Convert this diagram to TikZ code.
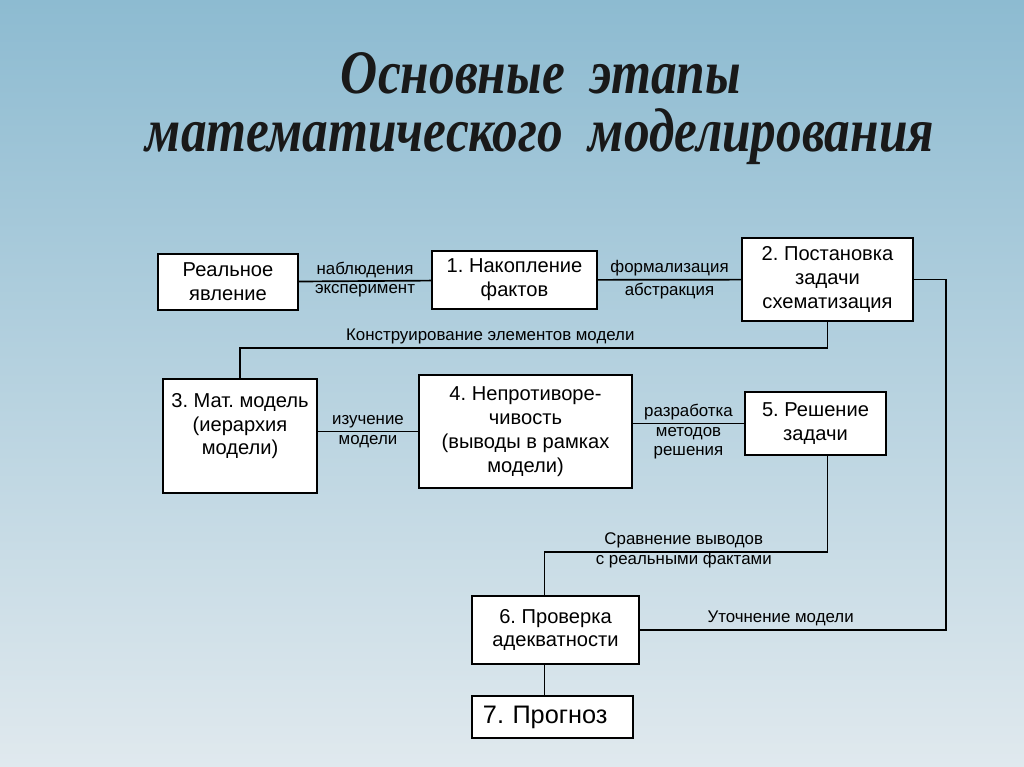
\documentclass[tikz,border=0pt]{standalone}
\usepackage{fontspec}
\setmainfont{Liberation Sans}
\newfontfamily\titlefont[FakeStretch=0.83]{Liberation Serif}
\usepackage{xcolor}
\usetikzlibrary{calc}
\frenchspacing

\definecolor{bgtop}{RGB}{141,187,209}
\definecolor{bgmid}{RGB}{187,213,226}
\definecolor{bgbot}{RGB}{224,233,238}

\begin{document}
\begin{tikzpicture}[
    x=0.025cm, y=-0.025cm,
    stage/.style={rectangle, draw=black, fill=white, line width=1.2pt, align=center, inner sep=2pt, font=\fontsize{14.3}{17}\selectfont},
    note/.style={align=center, inner sep=2pt, font=\fontsize{12}{14}\selectfont},
    link/.style={draw=black, line width=1.2pt},
    heading/.style={anchor=base, inner sep=0pt, text=black!90, font=\titlefont\bfseries\itshape\fontsize{44}{44}\selectfont}
]
    % Background
    \shade[top color=bgtop, middle color=bgmid, bottom color=bgbot] (0,0) rectangle (1024,767);
    \useasboundingbox (0,0) rectangle (1024,767);

    % Title
    \node[heading] (title1) at (541,94) {Основные\ \ этапы};
    \node[heading] (title2) at (540,152) {математического\ \ моделирования};

    % Stages
    \node[stage, minimum width=3.5cm, minimum height=1.4cm] (real) at (228,282) {Реальное\\явление};
    \node[stage, minimum width=4.125cm, minimum height=1.45cm] (collect) at (514.5,280) {1. Накопление\\фактов};
    \node[stage, minimum width=4.275cm, minimum height=2.075cm] (statement) at (827.5,279.5) {2. Постановка\\задачи\\схематизация};
    \node[stage, minimum width=3.85cm, minimum height=2.85cm] (matmodel) at (240,436) {3. Мат. модель\\(иерархия\\модели)\\ \mbox{}};
    \node[stage, minimum width=5.325cm, minimum height=2.825cm] (consist) at (525.5,431.5) {4. Непротиворе-\\чивость\\(выводы в рамках\\модели)};
    \node[stage, minimum width=3.525cm, minimum height=1.575cm] (solve) at (815.5,423.5) {5. Решение\\задачи};
    \node[stage, minimum width=4.175cm, minimum height=1.7cm] (check) at (555.5,630) {6. Проверка\\адекватности};
    \node[stage, minimum height=1.05cm, text width=3.475cm, inner xsep=0.275cm, align=left, font=\fontsize{18}{20}\selectfont] (forecast) at (552.5,717) {7. Прогноз};

    \coordinate (checktop) at ($(check.north)+(-11,0)$);
    \coordinate (checkbot) at ($(check.south)+(-11,0)$);

    % Links
    \draw[link] (real) -- node[note, above] {наблюдения} node[note, below] {эксперимент} (collect);
    \draw[link] (collect) -- node[note, above] {формализация} node[note, below] {абстракция} (statement);
    \draw[link] (statement.south) -- ++(0,26) -| node[note, above, pos=0.287] {Конструирование элементов модели} (matmodel.north);
    \draw[link] (matmodel.east |- consist.west) -- node[note, above] {изучение} node[note, below] {модели} (consist.west);
    \draw[link] (consist.east |- solve.west) -- node[note, above] {разработка} node[note, below] {методов\\решения} (solve.west);
    \draw[link] (solve.south -| statement.south) -- ++(0,96) -| node[note, above, pos=0.254] {Сравнение выводов} node[note, below, inner sep=0pt, pos=0.254] {с реальными фактами} (checktop);
    \draw[link] (statement.east) -- ++(32,0) |- node[note, above, pos=0.77] {Уточнение модели} (check.east);
    \draw[link] (checkbot) -- (checkbot |- forecast.north);
\end{tikzpicture}
\end{document}
